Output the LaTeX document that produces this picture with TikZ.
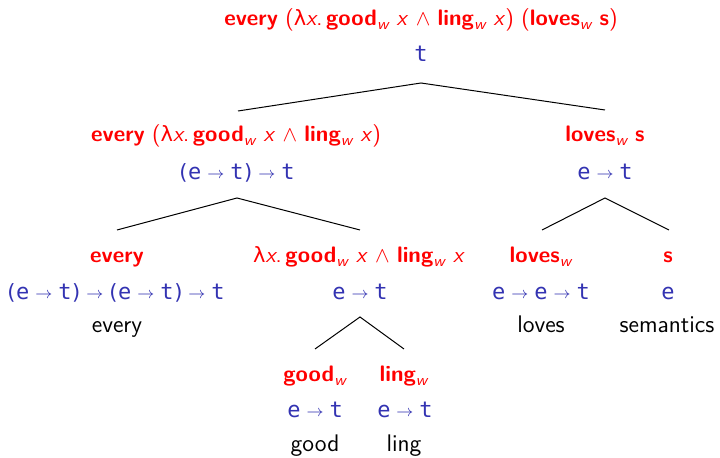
\documentclass[tikz,border=0pt]{standalone}
\usepackage{fontspec}
\newfontfamily\dvmono{DejaVu Sans Mono}
\newfontfamily\dvsans{DejaVu Sans}
\definecolor{semred}{rgb}{1,0,0}
\definecolor{typblue}{rgb}{0.2,0.2,0.7}
\newcommand\Vx{\textit{x}}
\newcommand\Lam{{\dvsans\fontsize{10.5}{12}\selectfont λ}}
\newcommand\Wsb{\textsubscript{\mdseries\itshape w}}
\newcommand\Ar{\hspace{3pt}\raisebox{0.9pt}{\fontsize{8.5}{10}\selectfont$\rightarrow$}\hspace{3pt}}
\newcommand\Lp{{\dvsans\fontsize{10.5}{12}\selectfont (}\hspace{0.3pt}}
\newcommand\Rp{\hspace{0.3pt}{\dvsans\fontsize{10.5}{12}\selectfont )}}
\tikzset{
  sem/.style={text=semred, font=\fontsize{11.2}{13}\selectfont\sffamily, inner sep=0pt, anchor=base},
  typ/.style={text=typblue, font=\fontsize{11}{13}\selectfont\dvmono, inner sep=0pt, anchor=base},
  wrd/.style={text=black, font=\fontsize{12}{14}\selectfont\sffamily, inner sep=0pt, anchor=base},
  edge/.style={draw=black, line width=0.5pt}
}
\begin{document}
\begin{tikzpicture}[x=0.5pt,y=-0.5pt]
\useasboundingbox (0,0) rectangle (720,458);
% root
\node[sem] (r) at (421,26) {\textbf{every} (\Lam\Vx.\,\textbf{good}\Wsb\ \Vx\ $\wedge$ \textbf{ling}\Wsb\ \Vx) (\textbf{loves}\Wsb\ \textbf{s})};
\node[typ] (rt) at (421,62) {t};
% level 1 left
\node[sem] (a) at (236,142) {\textbf{every} (\Lam\Vx.\,\textbf{good}\Wsb\ \Vx\ $\wedge$ \textbf{ling}\Wsb\ \Vx)};
\node[typ] (at) at (237,180) {\Lp e\Ar t\Rp\Ar t};
% level 1 right
\node[sem] (b) at (605,142) {\textbf{loves}\Wsb\ \textbf{s}};
\node[typ] (bt) at (605,180) {e\Ar t};
% level 2
\node[sem] (c) at (117,263) {\textbf{every}};
\node[typ] (ct) at (116,300) {\Lp e\Ar t\Rp\Ar\Lp e\Ar t\Rp\Ar t};
\node[wrd] (cw) at (117,333) {every};
\node[sem] (d) at (359,263) {\Lam\Vx.\,\textbf{good}\Wsb\ \Vx\ $\wedge$ \textbf{ling}\Wsb\ \Vx};
\node[typ] (dt) at (360,300) {e\Ar t};
\node[sem] (e) at (541,263) {\textbf{loves}\Wsb};
\node[typ] (et) at (541,300) {e\Ar e\Ar t};
\node[wrd] (ew) at (541,333) {loves};
\node[sem] (f) at (668,263) {\textbf{s}};
\node[typ] (ft) at (668,300) {e};
\node[wrd] (fw) at (667,333) {semantics};
% level 3
\node[sem] (g) at (315,382) {\textbf{good}\Wsb};
\node[typ] (gt) at (315,418) {e\Ar t};
\node[wrd] (gw) at (315,452) {good};
\node[sem] (h) at (404,382) {\textbf{ling}\Wsb};
\node[typ] (ht) at (405,418) {e\Ar t};
\node[wrd] (hw) at (404,452) {ling};
% connectors
\coordinate (r0) at (421,83);
\coordinate (a0) at (237,198);
\coordinate (b0) at (605,198);
\coordinate (d0) at (360,317);
\coordinate (a1) at (238,111);
\coordinate (b1) at (605,110);
\coordinate (c1) at (117,230);
\coordinate (d1) at (360,230);
\coordinate (e1) at (542,230);
\coordinate (f1) at (669,230);
\coordinate (g1) at (315,349);
\coordinate (h1) at (404,349);
\draw[edge] (a1) -- (r0) -- (b1);
\draw[edge] (c1) -- (a0) -- (d1);
\draw[edge] (e1) -- (b0) -- (f1);
\draw[edge] (g1) -- (d0) -- (h1);
\end{tikzpicture}
\end{document}
